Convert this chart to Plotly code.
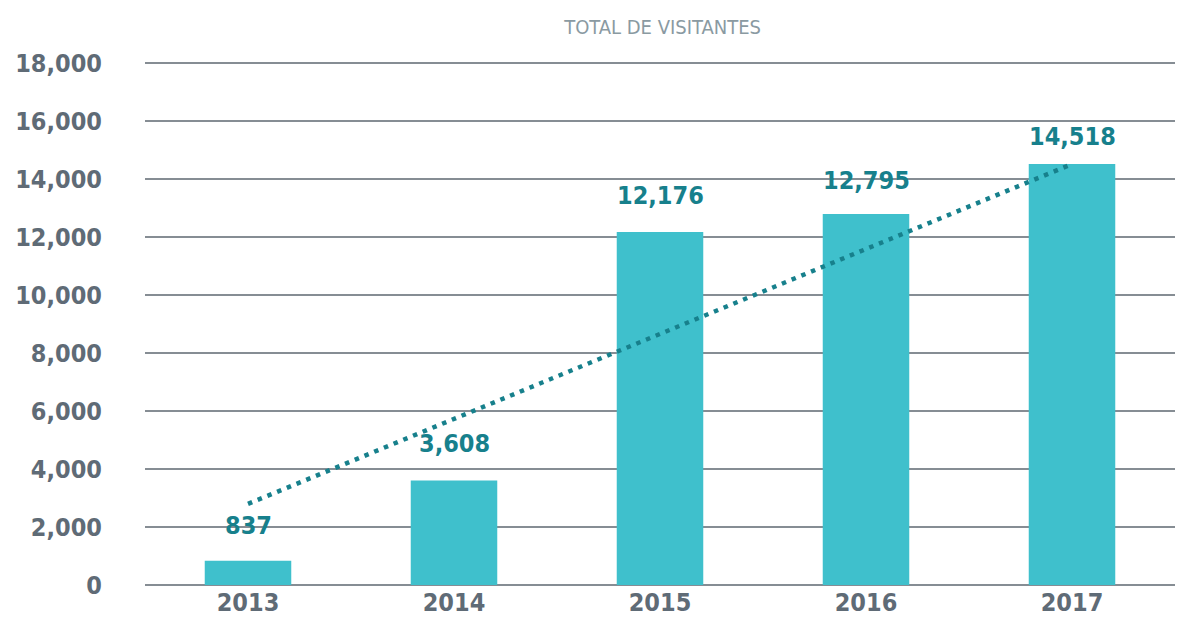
import plotly.graph_objects as go

years = ["2013", "2014", "2015", "2016", "2017"]
visitantes = [837, 3608, 12176, 12795, 14518]
trend_years = ["2013", "2017"]
trend_values = [2800, 14518]
y_ticks = [0, 2000, 4000, 6000, 8000, 10000, 12000, 14000, 16000, 18000]

font_cond = "'Liberation Sans Narrow', 'DejaVu Sans Condensed', 'Roboto Condensed', Roboto, sans-serif"
gris = "#5f6b76"
teal_bar = "#3fc0cc"
teal_dark = "#17808c"

fig = go.Figure()

fig.add_trace(go.Bar(
    x=years,
    y=visitantes,
    marker=dict(color=teal_bar, line=dict(width=0)),
    hoverinfo="skip",
))

fig.add_trace(go.Scatter(
    x=trend_years,
    y=trend_values,
    mode="lines",
    line=dict(color=teal_dark, width=4.5, dash="4.5px,6px"),
    hoverinfo="skip",
))

# etiquetas de valor encima de cada barra (x = indice de categoria)
label_shift = [19, 20, 20, 17, 11]
for i, v in enumerate(visitantes):
    fig.add_annotation(
        x=i, y=v, text=f"{v:,}", showarrow=False,
        yanchor="bottom", yshift=label_shift[i],
        font=dict(family=font_cond, size=25, color=teal_dark, weight="bold"),
    )

# la pagina tiene ~8px de margen en body, se compensa en los margenes
fig.update_layout(
    width=1188, height=622,
    margin=dict(l=137, r=21, t=54, b=45),
    plot_bgcolor="white", paper_bgcolor="white",
    showlegend=False,
    bargap=0.58,
    title=dict(
        text="TOTAL DE VISITANTES",
        font=dict(family=font_cond, size=20, color="#8a9aa2"),
        x=0.551, xanchor="center", y=0.97, yanchor="middle",
    ),
    xaxis=dict(
        type="category",
        categoryorder="array", categoryarray=years,
        range=[-0.5, 4.5],
        automargin=False,
        tickfont=dict(family=font_cond, size=25, color=gris, weight="bold"),
        showgrid=False, zeroline=False, showline=False,
        ticks="",
    ),
    yaxis=dict(
        range=[0, 18040],
        tickvals=y_ticks,
        tickformat=",d",
        automargin=False,
        tickfont=dict(family=font_cond, size=25, color=gris, weight="bold"),
        showgrid=True, gridcolor="#868d94", gridwidth=2,
        zeroline=True, zerolinecolor="#868d94", zerolinewidth=2,
        ticklabelstandoff=42,
    ),
)

fig.write_html("out.html")
